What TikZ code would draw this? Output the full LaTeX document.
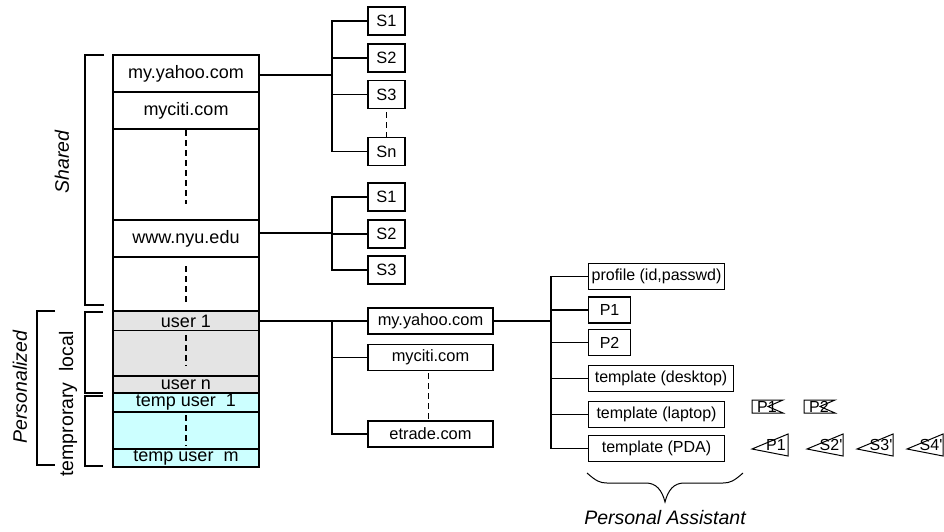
\documentclass[tikz,border=0pt]{standalone}
\usepackage{fontspec}
\setmainfont{Liberation Sans}
\usetikzlibrary{positioning}
\definecolor{usercol}{RGB}{228,228,228}
\definecolor{tempcol}{RGB}{204,255,255}
\tikzset{
  % one row of the site table
  siterow/.style={rectangle, draw, minimum width=146pt, minimum height=#1, inner sep=0pt,
                  font=\fontsize{18}{20}\selectfont},
  siterow/.default={37pt},
  % personalized rows
  userrow/.style={siterow=#1, fill=usercol},
  temprow/.style={siterow=#1, fill=tempcol},
  % service box
  sbox/.style={rectangle, draw, minimum width=37pt, minimum height=28pt, inner sep=0pt,
               font=\fontsize{16.4}{18}\selectfont},
  % site box of a user
  ubox/.style={rectangle, draw, minimum width=125pt, minimum height=26pt, inner sep=0pt,
               font=\fontsize{16.4}{18}\selectfont},
  % personal assistant box
  pabox/.style={rectangle, draw, anchor=west, minimum width=#1, minimum height=26pt, inner sep=0pt,
                font=\fontsize{16}{18}\selectfont},
  % ellipsis line
  vdash/.style={dash pattern=on 6pt off 4pt},
  % small flags
  flag/.style={line width=1pt, line join=miter},
  flagtxt/.style={inner sep=0pt, font=\fontsize{16}{17}\selectfont},
  % rotated labels at the side
  sidelabel/.style={rotate=90, inner sep=0pt, font=\fontsize{19.5}{22}\selectfont\itshape},
  uplabel/.style={rotate=90, inner sep=0pt, font=\fontsize{19.5}{22}\selectfont},
}

\begin{document}
\begin{tikzpicture}[x=1pt, y=-1pt, line width=1.1pt]
  \useasboundingbox (0,0) rectangle (944,532);

  % site table
  \node[siterow] (yahoo) at (186,73.5) {my.yahoo.com};
  \node[siterow] (citi) at (186,110.5) {myciti.com};
  \node[siterow=91pt] (gap1) at (186,174.5) {};
  \node[siterow] (nyu) at (186,238.5) {www.nyu.edu};
  \node[siterow=54pt] (gap2) at (186,284) {};
  \node[userrow=19pt] (user1) at (186,321) {user 1};
  \node[userrow=46pt] (ugap) at (186,353.5) {};
  \node[userrow=17pt] (usern) at (186,384.5) {user n};
  \node[temprow=19pt] (temp1) at (186,402.5) {temp user\ \ 1};
  \node[temprow=37pt] (tgap) at (186,430.5) {};
  \node[temprow=18pt] (tempm) at (186,458) {temp user\ \ m};
  \draw[vdash] (gap1.north) ++(0,2) -- ++(0,74);
  \draw[vdash] (gap2.north) ++(0,10) -- ++(0,36);
  \draw[vdash] (ugap.north) ++(0,5) -- ++(0,31);
  \draw[vdash] (tgap.north) ++(0,4) -- ++(0,31);

  % brackets
  \draw (104,55) -- (85,55) -- (85,305) -- (104,305);
  \draw (103,312) -- (85,312) -- (85,393) -- (103,393);
  \draw (103,396) -- (85,396) -- (85,466) -- (103,466);
  \draw (55,311) -- (37,311) -- (37,465) -- (55,465);
  \node[sidelabel] (shared) at (62,162) {Shared};
  \node[sidelabel] (pers) at (20,387) {Personalized};
  \node[uplabel] (tmploc) at (68,404) {temprorary\ \ local};

  % services of my.yahoo.com
  \node[sbox] (s11) at (386.5,21) {S1};
  \node[sbox] (s12) at (386.5,58) {S2};
  \node[sbox] (s13) at (386.5,94.5) {S3};
  \node[sbox] (s1n) at (386.5,151.5) {Sn};
  \coordinate (t1) at (332,75);
  \draw (yahoo.east |- t1) -- (t1);
  \draw (s11.west) -| (t1);
  \draw (s12.west) -| (t1);
  \draw (s13.west) -| (t1);
  \draw (s1n.west) -| (t1);
  \draw[vdash] (s13.south) ++(0,3) -- (s1n.north);

  % services of www.nyu.edu
  \node[sbox] (s21) at (386.5,197) {S1};
  \node[sbox] (s22) at (386.5,234) {S2};
  \node[sbox] (s23) at (386.5,270) {S3};
  \coordinate (t2) at (332,233);
  \draw (nyu.east |- t2) -- (t2);
  \draw (s21.west) -| (t2);
  \draw (s22.west) -| (t2);
  \draw (s23.west) -| (t2);

  % sites of user 1
  \node[ubox] (uyahoo) at (430.5,321) {my.yahoo.com};
  \node[ubox] (uciti) at (430.5,357.5) {myciti.com};
  \node[ubox] (uetrade) at (430.5,434) {etrade.com};
  \coordinate (t3) at (332,321);
  \draw (user1.east) -- (uyahoo.west);
  \draw (uciti.west) -| (t3);
  \draw (uetrade.west) -| (t3);
  \draw[vdash] (uciti.south) ++(-2,2) -- ++(0,46);

  % personal assistant
  \node[pabox=136pt] (prof) at (588,276.5) {profile (id,passwd)};
  \node[pabox=42pt] (p1) at (588,310) {P1};
  \node[pabox=42pt] (p2) at (588,342.5) {P2};
  \node[pabox=145pt] (desk) at (588,378.5) {template (desktop)};
  \node[pabox=136pt] (lapt) at (588,414.5) {template (laptop)};
  \node[pabox=136pt] (pda) at (588,448.5) {template (PDA)};
  \coordinate (t4) at (551,321);
  \draw (uyahoo.east) -- (t4);
  \draw (prof.west) -| (t4);
  \draw (p1.west) -| (t4);
  \draw (p2.west) -| (t4);
  \draw (desk.west) -| (t4);
  \draw (lapt.west) -| (t4);
  \draw (pda.west) -| (t4);

  % laptop flags
  \draw[flag] (752,400) -- ++(31,0) -- ++(-15,6.5) -- ++(15,6.5) -- ++(-31,0) -- cycle;
  \node[flagtxt] (lf1) at (767,406.5) {P1};
  \draw[flag] (804,400) -- ++(31,0) -- ++(-15,6.5) -- ++(15,6.5) -- ++(-31,0) -- cycle;
  \node[flagtxt] (lf2) at (819,406.5) {P2};

  % PDA flags
  \draw[flag] (752,449) -- ++(36,-15) -- ++(0,22) -- cycle;
  \node[flagtxt] (pf1) at (776,445) {P1};
  \draw[flag] (807,449) -- ++(36,-15) -- ++(0,22) -- cycle;
  \node[flagtxt] (pf2) at (831,445) {S2\textquotesingle};
  \draw[flag] (857,449) -- ++(36,-15) -- ++(0,22) -- cycle;
  \node[flagtxt] (pf3) at (881,445) {S3\textquotesingle};
  \draw[flag] (907,449) -- ++(36,-15) -- ++(0,22) -- cycle;
  \node[flagtxt] (pf4) at (931,445) {S4\textquotesingle};

  % brace
  \draw[line width=1pt] (587,473) .. controls (596,481) and (600,483) .. (607,483)
    -- (646,483) .. controls (656,483) and (662,490) .. (665,502)
    .. controls (668,490) and (674,483) .. (684,483) -- (723,483)
    .. controls (730,483) and (734,481) .. (743,473);
  \node[font=\fontsize{19.5}{22}\selectfont\itshape] (pa) at (665,518) {Personal Assistant};
\end{tikzpicture}
\end{document}
